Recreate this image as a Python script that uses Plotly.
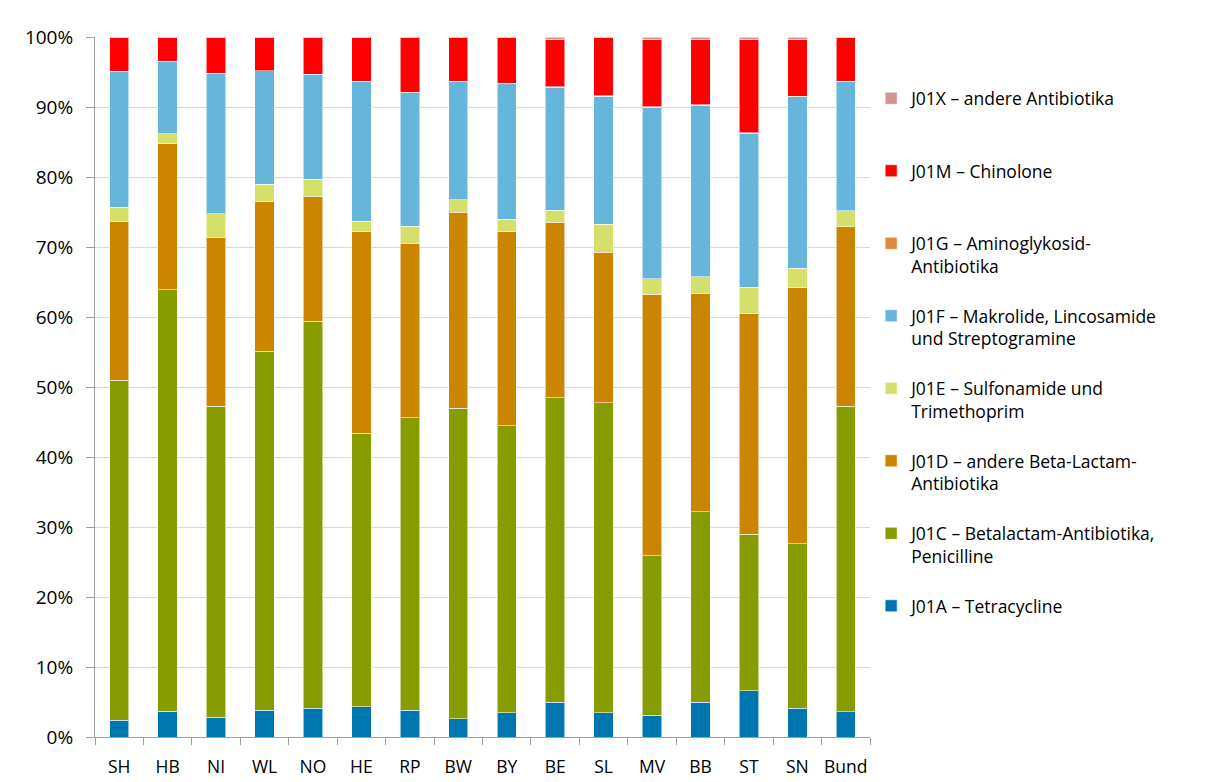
import plotly.graph_objects as go

regions = ["SH", "HB", "NI", "WL", "NO", "HE", "RP", "BW", "BY", "BE", "SL", "MV", "BB", "ST", "SN", "Bund"]

j01a = [2.4, 3.7, 2.8, 3.8, 4.1, 4.3, 3.8, 2.6, 3.5, 5.0, 3.5, 3.1, 5.0, 6.6, 4.1, 3.6]
j01c = [48.6, 60.2, 44.5, 51.3, 55.3, 39.1, 41.8, 44.4, 41.0, 43.5, 44.3, 22.8, 27.2, 22.4, 23.5, 43.7]
j01d = [22.7, 20.9, 24.1, 21.5, 17.8, 28.9, 25.0, 28.0, 27.7, 25.1, 21.5, 37.4, 31.2, 31.5, 36.7, 25.6]
j01e = [2.0, 1.4, 3.4, 2.4, 2.5, 1.4, 2.4, 1.8, 1.8, 1.7, 4.0, 2.2, 2.4, 3.8, 2.7, 2.3]
j01f = [19.4, 10.3, 20.0, 16.2, 15.0, 20.0, 19.1, 16.9, 19.4, 17.6, 18.3, 24.5, 24.5, 22.0, 24.5, 18.5]
j01g = [0.05, 0.05, 0.05, 0.05, 0.05, 0.05, 0.05, 0.05, 0.05, 0.05, 0.05, 0.05, 0.05, 0.05, 0.05, 0.05]
j01m = [4.9, 3.5, 5.2, 4.8, 5.3, 6.3, 7.9, 6.3, 6.6, 6.8, 8.4, 9.6, 9.4, 13.3, 8.2, 6.3]
j01x = [0.0, 0.0, 0.0, 0.0, 0.0, 0.0, 0.0, 0.0, 0.0, 0.3, 0.0, 0.4, 0.3, 0.4, 0.3, 0.0]

series_names = [
    "J01A – Tetracycline",
    "J01C – Betalactam-Antibiotika,<br>Penicilline",
    "J01D – andere Beta-Lactam-<br>Antibiotika",
    "J01E – Sulfonamide und<br>Trimethoprim",
    "J01F – Makrolide, Lincosamide<br>und Streptogramine",
    "J01G – Aminoglykosid-<br>Antibiotika",
    "J01M – Chinolone<br>\u00a0",
    "J01X – andere Antibiotika<br>\u00a0",
]
series_values = [j01a, j01c, j01d, j01e, j01f, j01g, j01m, j01x]
series_colors = ["#0076B0", "#879C00", "#CC8500", "#D5E06A", "#66B5DB", "#E0893E", "#FF0000", "#D49494"]

y_tickvals = [0, 10, 20, 30, 40, 50, 60, 70, 80, 90, 100]
y_ticktext = ["0%", "10%", "20%", "30%", "40%", "50%", "60%", "70%", "80%", "90%", "100%"]

fig = go.Figure()
n = len(series_names)
for i, (name, vals, col) in enumerate(zip(series_names, series_values, series_colors)):
    fig.add_trace(go.Bar(
        x=regions, y=vals, name=name, legendgroup=name,
        legendrank=n - i,
        marker=dict(color=col, line=dict(color="rgba(255,255,255,0.55)", width=1)),
    ))

font_family = "Open Sans, DejaVu Sans, sans-serif"
fig.update_layout(
    barmode="stack",
    barnorm="percent",
    bargap=0.6,
    width=1205, height=774,
    margin=dict(l=87, r=343, t=29, b=45),
    paper_bgcolor="white",
    plot_bgcolor="white",
    font=dict(family=font_family, size=17, color="#000000"),
    legend=dict(
        traceorder="grouped",
        x=1.0015, xanchor="left",
        y=0.938, yanchor="top",
        valign="top",
        tracegroupgap=24,
        font=dict(size=17.5, family=font_family, color="#000000"),
        itemwidth=30,
        bgcolor="rgba(0,0,0,0)",
    ),
    xaxis=dict(
        showline=True, linecolor="#A0A0A0", linewidth=1,
        ticks="outside", tickson="boundaries", ticklen=7, tickcolor="#A0A0A0",
        showgrid=False,
        tickangle=0,
        tickfont=dict(size=17.5),
        ticklabelstandoff=14,
        automargin=False,
    ),
    yaxis=dict(
        range=[0, 100],
        tickmode="array",
        tickvals=y_tickvals,
        ticktext=y_ticktext,
        showline=True, linecolor="#A0A0A0", linewidth=1,
        ticks="outside", ticklen=8, tickcolor="#A0A0A0",
        showgrid=True, gridcolor="#D9D9D9", gridwidth=1,
        zeroline=False,
        tickfont=dict(size=19),
        ticklabelstandoff=9,
        automargin=False,
    ),
)

fig.write_html("out.html")
